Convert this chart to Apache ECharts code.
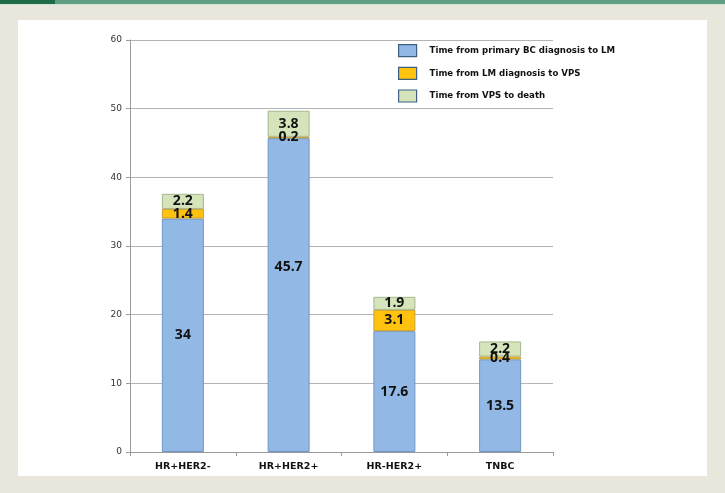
<!DOCTYPE html>
<html>
<head>
<meta charset="utf-8">
<script src="https://cdn.jsdelivr.net/npm/echarts@6/dist/echarts.min.js"></script>
<style>
  html, body { margin: 0; padding: 0; background: #e9e6dc; }
  #chart { width: 725px; height: 493px; }
</style>
</head>
<body>
<div id="chart"></div>
<script>
  // 分组
  var categories = ['HR+HER2-', 'HR+HER2+', 'HR-HER2+', 'TNBC'];
  // 各阶段时间（月）
  var bcToLm = [34, 45.7, 17.6, 13.5];
  var lmToVps = [1.4, 0.2, 3.1, 0.4];
  var vpsToDeath = [2.2, 3.8, 1.9, 2.2];
  var seriesNames = [
    'Time from primary BC diagnosis to LM',
    'Time from LM diagnosis to VPS',
    'Time from VPS to death'
  ];

  var chart = echarts.init(document.getElementById('chart'));

  var labelStyle = {
    show: true,
    position: 'inside',
    color: '#111',
    fontFamily: 'Open Sans',
    fontWeight: 'bold',
    fontSize: 14
  };

  function makeSeries(name, data, fill, border) {
    return {
      name: name,
      type: 'bar',
      stack: 'total',
      barWidth: 42,
      data: data,
      itemStyle: { color: fill, borderColor: border, borderWidth: 1 },
      label: labelStyle
    };
  }

  // 45.7 的标签在原图中偏上
  var blueData = bcToLm.map(function(v, i) {
    return i === 1 ? { value: v, label: { offset: [0, -28] } } : v;
  });

  var option = {
    backgroundColor: '#e9e6dc',
    animation: false,
    graphic: [
      { type: 'rect', shape: { x: 0, y: 0, width: 725, height: 4 }, style: { fill: '#5e9f84' } },
      { type: 'rect', shape: { x: 0, y: 4, width: 725, height: 1 }, style: { fill: '#cfe3d8' } },
      { type: 'rect', shape: { x: 0, y: 0, width: 55, height: 4 }, style: { fill: '#1f6b45' } },
      { type: 'rect', shape: { x: 18, y: 20, width: 689, height: 456 }, style: { fill: '#ffffff' }, z: -10 }
    ],
    grid: { left: 130, right: 172, top: 40, bottom: 41 },
    legend: {
      orient: 'vertical',
      left: 393,
      top: 39,
      itemGap: 9.5,
      itemWidth: 18,
      itemHeight: 12,
      icon: 'rect',
      data: seriesNames,
      itemStyle: { borderColor: '#3f5f82', borderWidth: 1.2 },
      textStyle: { fontFamily: 'DejaVu Sans', fontWeight: 'bold', fontSize: 8.6, color: '#111', padding: [0, 0, 0, 8] }
    },
    xAxis: {
      type: 'category',
      data: categories,
      axisLine: { lineStyle: { color: '#9a9a9a' } },
      axisTick: { show: true, length: 4, lineStyle: { color: '#9a9a9a' } },
      axisLabel: { fontFamily: 'DejaVu Sans', fontWeight: 'bold', fontSize: 9.5, color: '#111', margin: 10 }
    },
    yAxis: {
      type: 'value',
      min: 0,
      max: 60,
      interval: 10,
      axisLine: { show: true, lineStyle: { color: '#9a9a9a' } },
      axisTick: { show: true, length: 4, lineStyle: { color: '#9a9a9a' } },
      axisLabel: { fontFamily: 'DejaVu Sans', fontSize: 9, color: '#333', margin: 8 },
      splitLine: { lineStyle: { color: '#b4b4b4' } }
    },
    series: [
      makeSeries(seriesNames[0], blueData, '#92b8e6', '#7097c4'),
      makeSeries(seriesNames[1], lmToVps, '#ffc20e', '#c9a030'),
      makeSeries(seriesNames[2], vpsToDeath, '#d5e4bb', '#a6b68c')
    ]
  };

  chart.setOption(option);
</script>
</body>
</html>
